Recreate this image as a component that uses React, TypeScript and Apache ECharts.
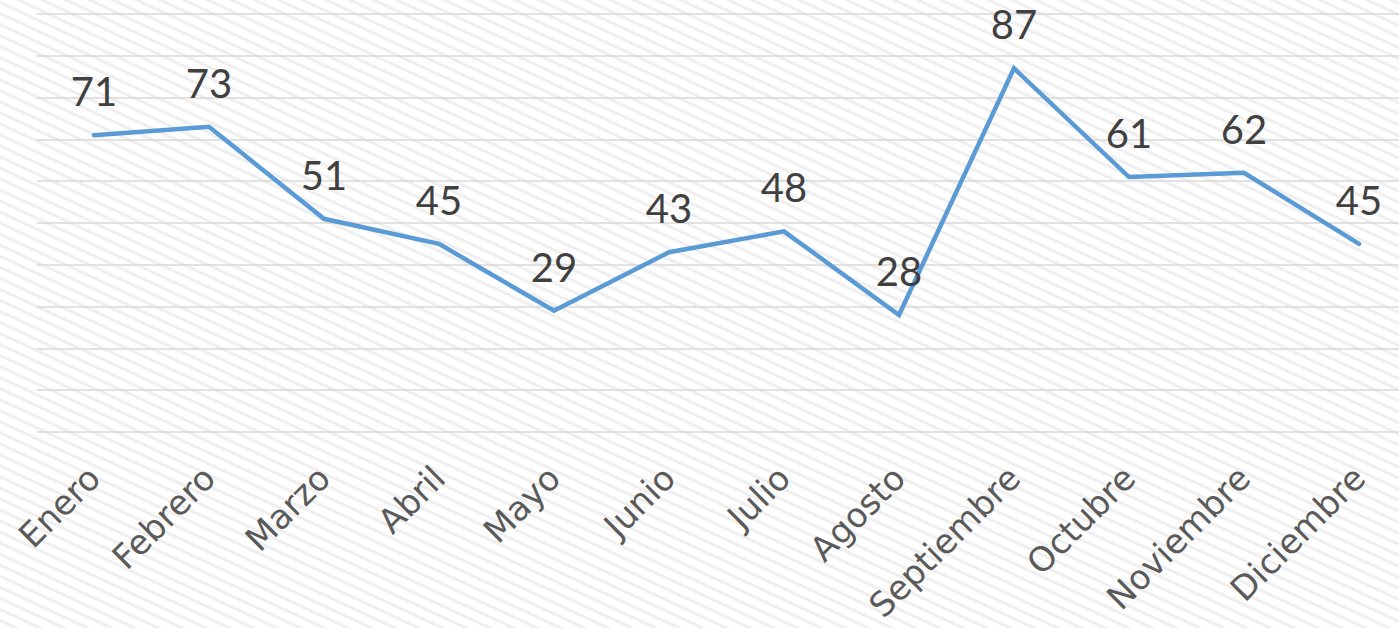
import React, { useEffect, useRef } from "react";
import * as echarts from "echarts";

const months = ["Enero", "Febrero", "Marzo", "Abril", "Mayo", "Junio", "Julio", "Agosto", "Septiembre", "Octubre", "Noviembre", "Diciembre"];
const values = [71, 73, 51, 45, 29, 43, 48, 28, 87, 61, 62, 45];
const yMin = 0;
const yMax = 100;
const yStep = 10;

export default function App() {
  const ref = useRef<HTMLDivElement>(null);
  useEffect(() => {
    if (!ref.current) return;
    const chart = echarts.init(ref.current, null, { renderer: "svg" });
    chart.setOption({
      animation: false,
      grid: {
        left: 36.5,
        top: 14,
        width: 1380,
        height: 418,
        containLabel: false,
        outerBoundsMode: "none",
      },
      xAxis: {
        type: "category",
        data: months,
        boundaryGap: true,
        axisLine: { show: false },
        axisTick: { show: false },
        axisLabel: {
          rotate: 45,
          margin: 40,
          color: "#5a5a5a",
          fontSize: 34,
          fontFamily: "'DejaVu Sans', sans-serif",
          interval: 0,
        },
      },
      yAxis: {
        type: "value",
        min: yMin,
        max: yMax,
        interval: yStep,
        axisLabel: { show: false },
        axisLine: { show: false },
        axisTick: { show: false },
        splitLine: { lineStyle: { color: "#d9d9d9", width: 1.5 } },
      },
      series: [
        {
          type: "line",
          data: values,
          symbol: "circle",
          symbolSize: 2,
          showSymbol: true,
          itemStyle: { color: "rgba(0,0,0,0)" },
          lineStyle: { color: "#5b9bd5", width: 4.5, cap: "round", join: "miter" },
          label: {
            show: true,
            position: "top",
            distance: 23,
            color: "#404040",
            fontSize: 40,
            fontFamily: "Lato, 'DejaVu Sans', sans-serif",
          },
          labelLayout: { hideOverlap: false },
        },
      ],
    });
    return () => chart.dispose();
  }, []);
  return (
    <div style={{ position: "fixed", left: 0, top: 0, width: 1399, height: 628, overflow: "hidden" }}>
      <div
        ref={ref}
        style={{
          position: "absolute",
          left: 0,
          top: 0,
          width: 1420,
          height: 628,
          background:
            "repeating-linear-gradient(25deg, #ffffff 0px, #ffffff 5px, #efefef 6px, #efefef 8px, #ffffff 9px, #ffffff 10px)",
        }}
      />
    </div>
  );
}
